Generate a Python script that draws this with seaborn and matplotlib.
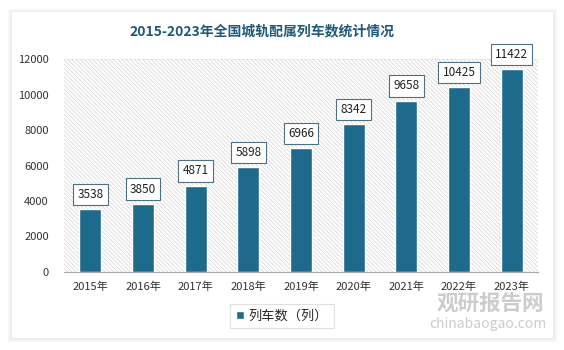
import matplotlib
matplotlib.use("Agg")
import matplotlib.pyplot as plt
from matplotlib.patches import Rectangle
import seaborn as sns
import pandas as pd

# Data
years = ["2015年", "2016年", "2017年", "2018年", "2019年", "2020年", "2021年", "2022年", "2023年"]
trains = [3538, 3850, 4871, 5898, 6966, 8342, 9658, 10425, 11422]
series_name = "列车数（列）"
title = "2015-2023年全国城轨配属列车数统计情况"

sns.set_theme(style="white")
plt.rcParams["font.family"] = ["Noto Sans CJK SC", "DejaVu Sans"]
plt.rcParams["hatch.color"] = "#d2d2d2"
plt.rcParams["hatch.linewidth"] = 0.5

BAR = "#1d6a8c"
TITLE_C = "#1f5a78"

fig = plt.figure(figsize=(5.64, 3.5), dpi=100, facecolor="white")

# card with soft shadow
for pad, c in [(0.012, "#f6f6f6"), (0.006, "#ededed")]:
    fig.patches.append(Rectangle((12/564 - pad*0.6, 12/350 - pad), (541/564) + pad*1.2, (326/350) + pad*1.6,
                                 transform=fig.transFigure, facecolor=c, edgecolor="none", zorder=-3))
fig.patches.append(Rectangle((12/564, 12/350), 541/564, 326/350, transform=fig.transFigure,
                             facecolor="white", edgecolor="none", zorder=-2))

ax = fig.add_axes([64/564, 1 - 272/350, (538 - 64)/564, (272 - 59)/350])
ax.set_facecolor("none")
ax.set_zorder(2)

df = pd.DataFrame({"year": years, "value": trains})

# hatched plot area
ax.add_patch(Rectangle((0, 0), 1, 1, transform=ax.transAxes, facecolor="white",
                       edgecolor="#d2d2d2", hatch="\\" * 8, linewidth=0, zorder=0))

sns.barplot(data=df, x="year", y="value", color=BAR, width=0.42, ax=ax,
            label=series_name, zorder=3, saturation=1)

ax.set_ylim(0, 12000)
ax.set_xlim(-0.5, len(years) - 0.5)
ax.set_yticks(range(0, 12001, 2000))
ax.axhline(12000, color="#c8c8c8", linestyle=(0, (1, 2)), linewidth=0.6, zorder=1)
ax.set_xlabel("")
ax.set_ylabel("")
for s in ["top", "right", "left"]:
    ax.spines[s].set_visible(False)
ax.spines["bottom"].set_color("#a6a6a6")
ax.spines["bottom"].set_linewidth(0.8)
ax.tick_params(axis="both", length=0, labelsize=8, colors="#333333")
ax.tick_params(axis="x", pad=7)
ax.tick_params(axis="y", pad=11)

# value labels in boxes
for i, v in enumerate(trains):
    ax.annotate(f"{v}", xy=(i, v), xytext=(0, 10.5), textcoords="offset points",
                ha="center", va="center", fontsize=8.5, color="#222222", zorder=5,
                bbox=dict(boxstyle="square,pad=0.35", facecolor="white",
                          edgecolor="#4f6f82", linewidth=0.8))

fig.text(262/564, 1 - 31/350, title, ha="center", va="center", fontsize=10,
         fontweight="bold", color=TITLE_C)

leg = ax.legend(loc="center", bbox_to_anchor=(282/564, 1 - 316/350),
                bbox_transform=fig.transFigure, frameon=True, fontsize=9.5,
                handlelength=0.6, handleheight=0.6, handletextpad=0.3,
                borderpad=0.45, fancybox=False, borderaxespad=0)
leg.get_frame().set_edgecolor("#d9d9d9")
leg.get_frame().set_linewidth(0.8)

# watermark
fig.text(490/564, 1 - 303/350, "观研报告网", ha="center", va="center", fontsize=15.5,
         fontweight="bold", color="#c4c4c4", alpha=0.85, zorder=10)
fig.text(488/564, 1 - 324/350, "chinabaogao.com", ha="center", va="center", fontsize=10,
         color="#c4c4c4", alpha=0.85, zorder=10)

fig.savefig("out.png", dpi=100, facecolor=fig.get_facecolor())
